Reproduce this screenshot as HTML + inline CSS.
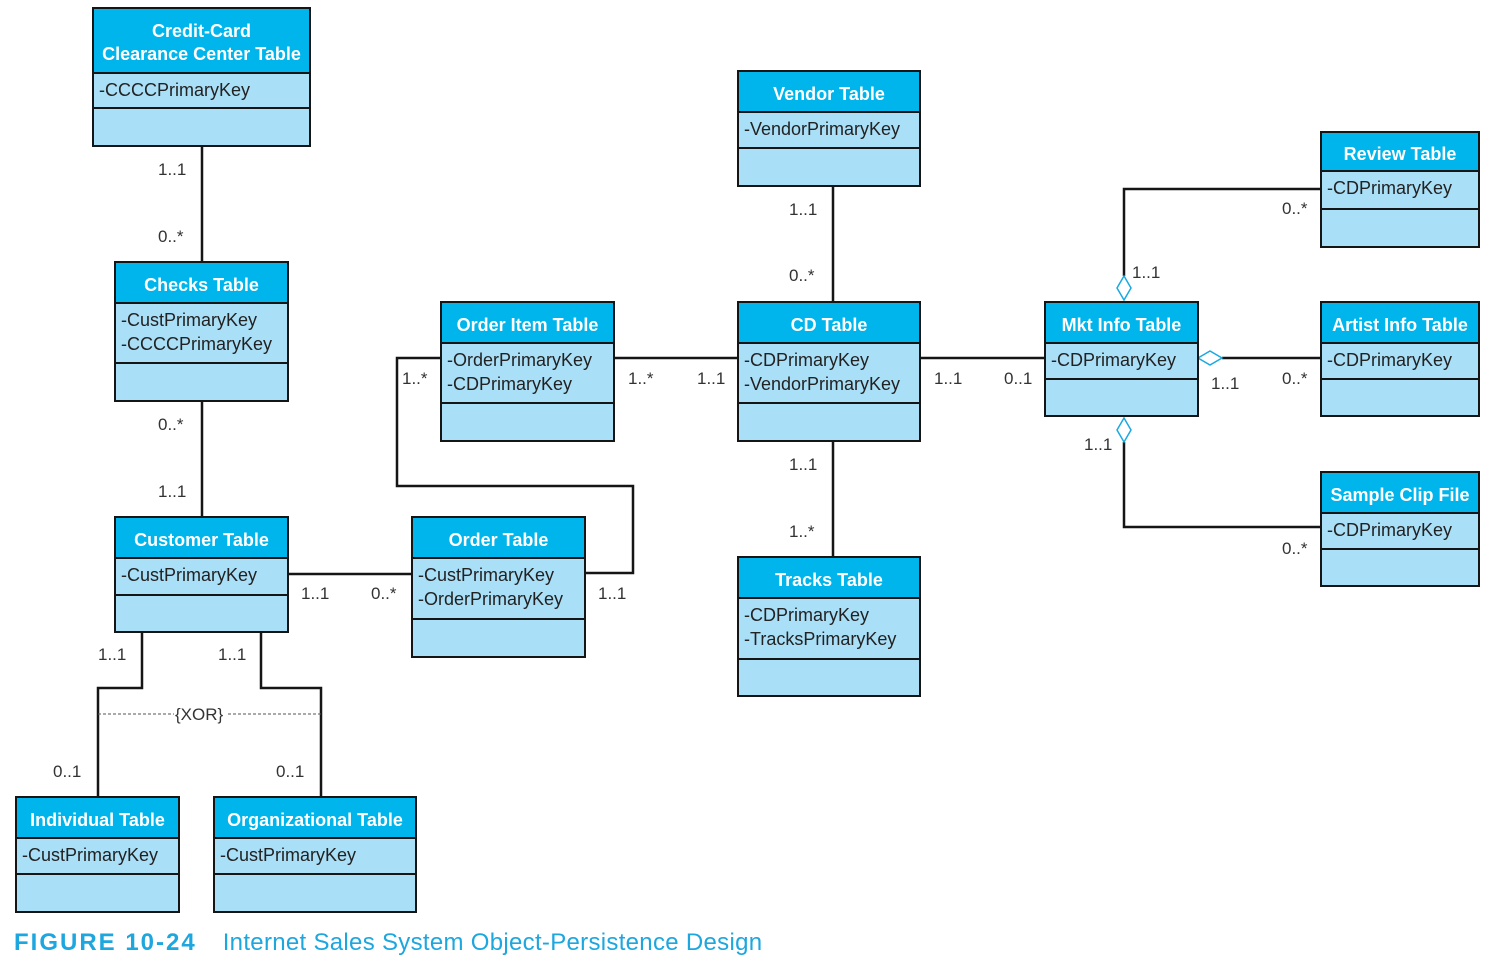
<!DOCTYPE html>
<html><head><meta charset="utf-8"><style>
body{margin:0;width:1503px;height:965px;background:#fff;position:relative;overflow:hidden;font-family:"Liberation Sans",sans-serif}
.t{position:absolute;border:2.5px solid #151515;background:#aadff8;box-sizing:border-box}
.h{background:#00b4ec;color:#fff;font-weight:bold;font-size:18px;text-align:center;border-bottom:2.5px solid #151515;box-sizing:border-box;display:flex;align-items:center;justify-content:center;line-height:23px;white-space:nowrap;padding-top:5px}
.a{border-bottom:2.5px solid #151515;box-sizing:border-box;padding:4px 0 0 5px;font-size:18px;line-height:24px;color:#222;white-space:nowrap}
svg{position:absolute;left:0;top:0}
.l{font-size:17px;fill:#333;font-family:"Liberation Sans",sans-serif}
</style></head><body>
<svg width="1503" height="965">
<g stroke="#151515" stroke-width="2.5" fill="none">
<path d="M202 146V262M202 401V517M288 574H412M585 573H633V486H397V358H441M614 358H738M833 186V302M833 441V557M920 358H1045"/>
<path d="M1124 276V189H1321M1222 358H1321M1124 442V527H1321"/>
<path d="M142 632V688H98V797M261 632V688H321V797"/>
</g>
<g stroke="#1aa9e0" stroke-width="1.5" fill="#fff">
<path d="M1124 276L1131 288L1124 300L1117 288Z"/>
<path d="M1198 358L1210 351L1222 358L1210 365Z"/>
<path d="M1124 418L1131 430L1124 442L1117 430Z"/>
</g>
<line x1="98" y1="714" x2="321" y2="714" stroke="#555" stroke-width="1" stroke-dasharray="3,2"/>
<rect x="174" y="703" width="54" height="20" fill="#fff"/>
<text class="l" x="175" y="720">{XOR}</text>
<g class="l">
<text x="158" y="175">1..1</text><text x="158" y="242">0..*</text>
<text x="158" y="430">0..*</text><text x="158" y="497">1..1</text>
<text x="301" y="599">1..1</text><text x="371" y="599">0..*</text>
<text x="598" y="599">1..1</text><text x="402" y="384">1..*</text>
<text x="628" y="384">1..*</text><text x="697" y="384">1..1</text>
<text x="789" y="215">1..1</text><text x="789" y="281">0..*</text>
<text x="789" y="470">1..1</text><text x="789" y="537">1..*</text>
<text x="934" y="384">1..1</text><text x="1004" y="384">0..1</text>
<text x="1132" y="278">1..1</text><text x="1282" y="214">0..*</text>
<text x="1211" y="389">1..1</text><text x="1282" y="384">0..*</text>
<text x="1084" y="450">1..1</text><text x="1282" y="554">0..*</text>
<text x="98" y="660">1..1</text><text x="218" y="660">1..1</text>
<text x="53" y="777">0..1</text><text x="276" y="777">0..1</text>
</g>
</svg>

<div class="t" style="left:92px;top:7px;width:219px;height:140px"><div class="h" style="height:65px">Credit-Card<br>Clearance Center Table</div><div class="a" style="height:35px">-CCCCPrimaryKey</div></div>
<div class="t" style="left:114px;top:261px;width:175px;height:141px"><div class="h" style="height:41px">Checks Table</div><div class="a" style="height:60px">-CustPrimaryKey<br>-CCCCPrimaryKey</div></div>
<div class="t" style="left:114px;top:516px;width:175px;height:117px"><div class="h" style="height:41px">Customer Table</div><div class="a" style="height:37px">-CustPrimaryKey</div></div>
<div class="t" style="left:15px;top:796px;width:165px;height:117px"><div class="h" style="height:41px">Individual Table</div><div class="a" style="height:36px">-CustPrimaryKey</div></div>
<div class="t" style="left:213px;top:796px;width:204px;height:117px"><div class="h" style="height:41px">Organizational Table</div><div class="a" style="height:36px">-CustPrimaryKey</div></div>
<div class="t" style="left:411px;top:516px;width:175px;height:142px"><div class="h" style="height:41px">Order Table</div><div class="a" style="height:61px">-CustPrimaryKey<br>-OrderPrimaryKey</div></div>
<div class="t" style="left:440px;top:301px;width:175px;height:141px"><div class="h" style="height:41px">Order Item Table</div><div class="a" style="height:60px">-OrderPrimaryKey<br>-CDPrimaryKey</div></div>
<div class="t" style="left:737px;top:301px;width:184px;height:141px"><div class="h" style="height:41px">CD Table</div><div class="a" style="height:60px">-CDPrimaryKey<br>-VendorPrimaryKey</div></div>
<div class="t" style="left:737px;top:70px;width:184px;height:117px"><div class="h" style="height:41px">Vendor Table</div><div class="a" style="height:36px">-VendorPrimaryKey</div></div>
<div class="t" style="left:737px;top:556px;width:184px;height:141px"><div class="h" style="height:41px">Tracks Table</div><div class="a" style="height:61px">-CDPrimaryKey<br>-TracksPrimaryKey</div></div>
<div class="t" style="left:1044px;top:301px;width:155px;height:116px"><div class="h" style="height:41px">Mkt Info Table</div><div class="a" style="height:36px">-CDPrimaryKey</div></div>
<div class="t" style="left:1320px;top:131px;width:160px;height:117px"><div class="h" style="height:39px">Review Table</div><div class="a" style="height:38px">-CDPrimaryKey</div></div>
<div class="t" style="left:1320px;top:301px;width:160px;height:116px"><div class="h" style="height:41px">Artist Info Table</div><div class="a" style="height:36px">-CDPrimaryKey</div></div>
<div class="t" style="left:1320px;top:471px;width:160px;height:116px"><div class="h" style="height:41px">Sample Clip File</div><div class="a" style="height:36px">-CDPrimaryKey</div></div>

<div style="position:absolute;left:14px;top:929px;font-size:24px;color:#1ea6de;white-space:nowrap"><b style="letter-spacing:2px">FIGURE 10-24</b><span style="margin-left:26px;letter-spacing:0.3px">Internet Sales System Object-Persistence Design</span></div>
</body></html>
